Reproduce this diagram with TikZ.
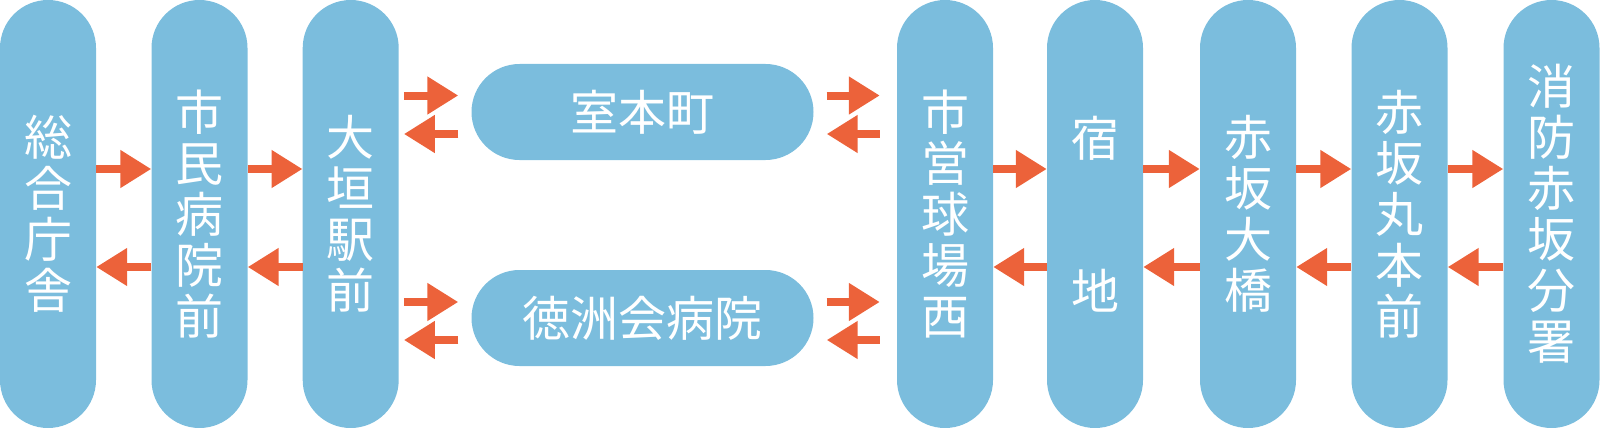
\documentclass[tikz,border=0pt]{standalone}
\usepackage{fontspec}
\newfontfamily\cjk{Noto Sans CJK JP}
\usetikzlibrary{arrows.meta}
\definecolor{pillblue}{RGB}{123,189,221}
\definecolor{arrred}{RGB}{236,98,58}
\begin{document}
\begin{tikzpicture}[x=1pt,y=-1pt,
  vpill/.style={fill=pillblue,rounded corners=48pt,minimum width=96pt,minimum height=428pt,
    inner sep=0pt,text=white,align=center,font=\cjk\fontsize{48}{51}\selectfont},
  hpill/.style={fill=pillblue,rounded corners=48pt,minimum width=342pt,minimum height=96pt,
    inner sep=0pt,text=white,font=\cjk\fontsize{48}{51}\selectfont},
  arr/.style={draw=arrred,line width=8pt,-{Triangle[length=31pt,width=36pt]},arrred}]
\useasboundingbox (0,0) rectangle (1600,428);
% vertical stations
\node[vpill] (p1) at (48,214) {総\\合\\庁\\舎};
\node[vpill] (p2) at (199.5,214) {市\\民\\病\\院\\前};
\node[vpill] (p3) at (350.7,214) {大\\垣\\駅\\前};
\node[vpill] (p4) at (945,214) {市\\営\\球\\場\\西};
\node[vpill] (p5) at (1095,214) {宿\\　\\　\\地};
\node[vpill] (p6) at (1248,214) {赤\\坂\\大\\橋};
\node[vpill] (p7) at (1399.5,214) {赤\\坂\\丸\\本\\前};
\node[vpill] (p8) at (1551.5,214) {消\\防\\赤\\坂\\分\\署};
% horizontal stations
\node[hpill] (m1) at (642.5,112) {室本町};
\node[hpill] (m2) at (642.5,318) {徳洲会病院};
% coordinates for arrow levels
\coordinate (yr) at (0,169);
\coordinate (yl) at (0,267);
\coordinate (ua) at (0,95.5);
\coordinate (ub) at (0,134);
\coordinate (la) at (0,302);
\coordinate (lb) at (0,340);
% arrows between vertical pills
\foreach \a/\b in {p1/p2,p2/p3,p4/p5,p5/p6,p6/p7,p7/p8}{
  \draw[arr] (\a.east |- yr) -- (\b.west |- yr);
  \draw[arr] (\b.west |- yl) -- (\a.east |- yl);
}
% branch arrows
\draw[arr,shorten <=5pt,shorten >=13pt] (p3.east |- ua) -- (m1.west |- ua);
\draw[arr,shorten <=13pt,shorten >=5pt] (m1.west |- ub) -- (p3.east |- ub);
\draw[arr,shorten <=5pt,shorten >=13pt] (p3.east |- la) -- (m2.west |- la);
\draw[arr,shorten <=13pt,shorten >=5pt] (m2.west |- lb) -- (p3.east |- lb);
\draw[arr,shorten <=13pt,shorten >=17pt] (m1.east |- ua) -- (p4.west |- ua);
\draw[arr,shorten <=17pt,shorten >=13pt] (p4.west |- ub) -- (m1.east |- ub);
\draw[arr,shorten <=13pt,shorten >=17pt] (m2.east |- la) -- (p4.west |- la);
\draw[arr,shorten <=17pt,shorten >=13pt] (p4.west |- lb) -- (m2.east |- lb);
\end{tikzpicture}
\end{document}
